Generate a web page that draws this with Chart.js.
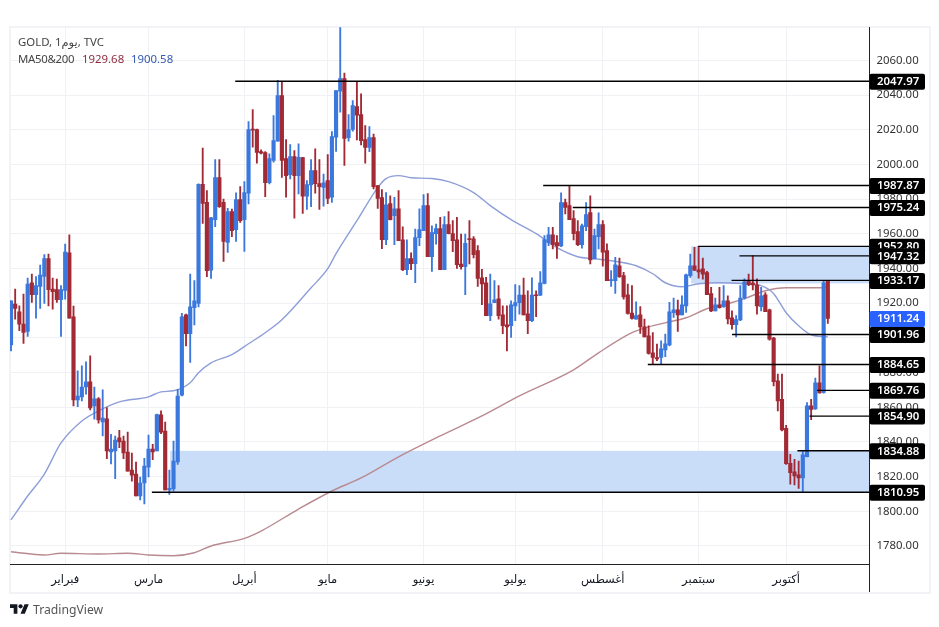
<!DOCTYPE html>
<html>
<head>
<meta charset="utf-8">
<title>GOLD</title>
<script src="https://cdn.jsdelivr.net/npm/chart.js@4"></script>
<style>
  html, body { margin: 0; padding: 0; background: #fff; overflow: hidden; }
  body { width: 939px; height: 627px; position: relative; font-family: "Noto Sans", "DejaVu Sans", sans-serif; }
  #frame { position: absolute; left: 9px; top: 26px; width: 918px; height: 564px; border: 2px solid #f1f3f6; }
  #wrap { position: absolute; left: 0; top: 0; width: 939px; height: 627px; }
  .txt { position: absolute; white-space: nowrap; font-size: 11.4px; line-height: 16px; color: #444; }
  #brand { position: absolute; left: 33px; top: 601px; font-size: 12.2px; line-height: 18px; color: #555; }
  #logo { position: absolute; left: 10px; top: 604px; }
</style>
</head>
<body>
<div id="frame"></div>
<div id="wrap"><canvas id="chart"></canvas></div>
<div class="txt" style="left:18px;top:34px">GOLD, 1يوم, TVC</div>
<div class="txt" style="left:18px;top:51px;letter-spacing:-0.3px">MA50&amp;200</div>
<div class="txt" style="left:82px;top:51px;color:#8e2b3e">1929.68</div>
<div class="txt" style="left:131px;top:51px;color:#3558b0">1900.58</div>
<svg id="logo" width="19" height="10" viewBox="0 4 36 18"><path d="M14 22H7V11H0V4h14v18zM28 22h-8l7.5-18h8L28 22z" fill="#131722"/><circle cx="20" cy="8" r="4" fill="#131722"/></svg>
<div id="brand">TradingView</div>

<script>
// Daily candles
const opens = [
  1896.0,1919.5,1915.1,1907.9,1903.7,1931.8,1924.9,1929.7,1935.5,1945.7,
  1928.1,1927.8,1922,1927.4,1949.1,1912.2,1864.2,1866,1871.7,1874.6,
  1860.8,1864.8,1851.5,1853.3,1834.2,1834.8,1842.3,1840.5,1834.2,1823.8,
  1821.5,1808.8,1816.3,1825.5,1835.9,1834.8,1855.6,1846.3,1812.3,1813,
  1828.4,1866.9,1913.3,1902.5,1917.4,1919.9,1988.6,1978.2,1939.1,1968.2,
  1992.4,1978.2,1955.1,1972.8,1962.4,1979.7,1968.2,1983.4,2020.2,2020.2,
  2007.5,2006.9,1989.5,2002.3,2013.4,2039.8,2003.4,1994.2,2004.6,1993.6,
  2004,1981.7,1988.2,1996.5,1989,1986.8,1990.7,1981.1,2015.7,2042.3,
  2049.6,2015.5,2020.2,2033.4,2028.8,2014.4,2009.8,2015.5,1987.8,1980.9,
  1956.6,1977.4,1970.5,1974.5,1956.6,1939.3,1945.7,1942.8,1957.8,1961.8,
  1976.3,1946.8,1960.1,1963,1939.3,1965.3,1960.1,1956.6,1942.6,1941.1,
  1957.2,1957.2,1950.3,1934.7,1931.8,1912.8,1920.3,1922.6,1913.3,1907.6,
  1907,1918.5,1920.3,1924.7,1913.9,1909.9,1924.9,1924.7,1931.4,1954.9,
  1959.5,1954.9,1953,1978,1976.3,1968.8,1961.3,1953.8,1964.2,1972.2,
  1945.5,1958.4,1965.3,1950.3,1933,1933,1941.6,1935.9,1924.9,1914.3,
  1910.8,1913.3,1906.4,1901.2,1891.4,1888.7,1888.7,1893.1,1896,1914.5,
  1916.2,1913.3,1918.5,1935.9,1941.6,1939.3,1939.9,1937.6,1925.5,1915.6,
  1919.1,1918,1921.4,1911.6,1907.6,1910.3,1923,1933,1931.6,1930.5,
  1918,1924.9,1916.2,1899.9,1875.2,1864.6,1847.9,1827.7,1822.7,1821,
  1819.2,1831.5,1860.8,1859,1874.1,1868.5,1932.6
];
const highs = [
  1921.4,1928.1,1918.5,1925.3,1934.5,1936.8,1935.3,1942,1948,1948.4,
  1934.5,1933.9,1930.1,1954.1,1959.5,1918.3,1881,1883.9,1886.2,1889.6,
  1871.7,1865.6,1870,1859.8,1844.4,1843.4,1846.7,1843.4,1845.7,1833.6,
  1828.4,1819.8,1830.5,1844,1838.6,1856,1857.9,1851.5,1823.8,1840.5,
  1870.4,1914.1,1913.7,1936.8,1933,1988.8,2009.4,1984.9,1969.5,2002.8,
  2002.8,1980.1,1974.7,1974.3,1983.6,1987.2,1990.1,2024.8,2031.7,2020.5,
  2008.4,2007.5,2006.1,2028.2,2048.5,2047.9,2014.4,2011.5,2008,2011.9,
  2004.2,1990.7,2002.8,2009,2002.8,1994.5,2005.7,2019,2042.7,2079,
  2052.7,2028.8,2036.9,2047.9,2040.8,2022.5,2021.9,2017.6,1987.8,1985.5,
  1983.8,1982,1981.1,1984.9,1964.1,1956.6,1949.1,1962.8,1974.5,1982.6,
  1983.2,1964.7,1965.7,1969.5,1969.9,1972.8,1967.6,1969.5,1959.9,1959.9,
  1967.6,1958.4,1953.2,1939.5,1934.9,1936.8,1933,1930.1,1918.5,1918.5,
  1921.4,1930.7,1930.1,1934.5,1927.2,1934.7,1927.2,1938.2,1959,1963.8,
  1963.8,1959,1983.6,1980.1,1987.87,1973.4,1967.6,1965.7,1978,1982,
  1962.8,1972.1,1967.6,1954.2,1938.8,1946.4,1946,1937.8,1931,1930.1,
  1920.8,1918,1910.8,1907,1903.1,1896.4,1898.3,1902.2,1920.5,1923,
  1921.8,1924.3,1936.8,1948.4,1952.2,1952.8,1946.1,1938.4,1929.1,1923,
  1929.1,1930.1,1924.3,1915.6,1912.8,1930.1,1934,1936.8,1947.32,1934,
  1929.1,1926.2,1916.6,1900.3,1879.1,1879.1,1849.6,1832.9,1830,1829,
  1834.4,1862.7,1864.6,1876.8,1883.9,1933.17,1933.17
];
const lows = [
  1892.5,1910.8,1904.1,1896.8,1900.8,1920.4,1911.4,1917,1919.9,1918.5,
  1916.6,1920.4,1900.8,1922.4,1911.4,1860.8,1860.4,1863.7,1867.5,1858.4,
  1853.1,1850.8,1843.4,1830.4,1827.3,1818.8,1836.7,1830.4,1823.2,1817.4,
  1808.8,1806.5,1804.2,1819.8,1829.8,1834.8,1844.8,1812.3,1809.8,1811.7,
  1827.1,1866.5,1895.4,1885.8,1907.5,1917.9,1966,1935.3,1934.3,1964.1,
  1975.3,1944.1,1949.3,1958.4,1955.7,1966.6,1949.9,1977.2,2010,2000.7,
  2006.1,1981.5,1988.8,2001.3,2013.4,1992.6,1981.1,1991.7,1969.1,1983,
  1971.8,1974.1,1975.7,1983.4,1974.1,1975.9,1977.4,1978.2,2007.6,2030.2,
  1999.4,2013.4,2019.2,2014.2,2011.3,2000.7,2007.4,1985.9,1974.7,1951.4,
  1953.7,1968,1953.7,1956,1938.7,1936.4,1939.3,1931.8,1953.2,1961.8,
  1946.8,1938.3,1954.1,1939.3,1939.3,1959.9,1949.7,1940.1,1939.7,1924.9,
  1942.6,1946.1,1929.7,1919.1,1912.8,1909.9,1920.3,1910.8,1902.4,1892.5,
  1900.3,1909.9,1913.7,1913.3,1902.4,1909.3,1912.2,1924.3,1931.2,1953.2,
  1951.3,1945.9,1952.6,1971.5,1968.2,1956.5,1953.2,1951.8,1961.9,1942.6,
  1945.5,1951.3,1941.3,1933,1929.7,1925.7,1934.9,1922.4,1913.7,1910.8,
  1910.8,1902.6,1900.6,1890.6,1885.2,1886.8,1884.65,1889.1,1895.4,1911.8,
  1903.7,1913.3,1914.7,1934.9,1938.8,1934.5,1933.9,1924.9,1915.1,1915.6,
  1917.2,1917.6,1908,1905.1,1900.6,1909.9,1922.4,1930.1,1927.6,1913.7,
  1915.6,1915.1,1898.7,1872.3,1857.9,1846.4,1827.1,1815.6,1815.2,1813.2,
  1810.95,1831.3,1852.9,1858.7,1868.1,1868.1,1908.3
];
const closes = [
  1921.4,1917,1907.9,1903.1,1931,1924.9,1930.1,1936.2,1945.7,1927.8,
  1926.6,1922,1927.8,1949.5,1911.4,1864.2,1866.5,1871.7,1874.6,1859.6,
  1864.8,1852.7,1853.8,1834.8,1835.9,1841.1,1840,1833.6,1823.2,1820.9,
  1808.8,1816.3,1826.1,1835.9,1834.2,1855.8,1845.7,1812.3,1813.2,1829,
  1866.5,1912.2,1902.5,1917.9,1921.4,1988.6,1977.6,1938.7,1969.3,1992.4,
  1975.7,1955.7,1972.8,1961.8,1979.7,1967.6,1983.8,2020.2,2019.8,2006.9,
  2006.5,1989.5,2003.4,2013.8,2039.8,2002.3,1993.6,2004.6,1993.6,2004.2,
  1981.7,1988.4,1996.5,1989,1987.2,1989.5,1980.5,2016.1,2042.7,2049.6,
  2015.1,2020.2,2034,2028.4,2013.8,2009.8,2015.5,1987.2,1980.5,1956.6,
  1976.8,1968.2,1974.5,1956,1939.3,1945.7,1942.8,1957.8,1962.4,1976.3,
  1946.8,1960.7,1963,1939.3,1965.3,1960.1,1956,1942.2,1941.1,1954.5,
  1956.7,1948,1934.3,1931.2,1912.8,1919.7,1922,1912.8,1907,1906.4,
  1919.1,1920.3,1924.7,1913.3,1909.9,1924.7,1924.3,1931.8,1956.7,1959.5,
  1953.8,1953,1978,1975.3,1968.2,1960.1,1953.8,1964.7,1971.1,1944.9,
  1959,1965.3,1949.5,1933,1933.6,1942.2,1935.3,1923.7,1914.1,1911.2,
  1912.8,1906.4,1900.6,1891,1888.7,1887.9,1893.7,1896.6,1915.1,1916.2,
  1913.3,1919.1,1936.4,1941.6,1939.1,1938,1936.8,1924.9,1915.6,1919.1,
  1917.4,1921.4,1911,1907.6,1910.5,1923,1932.4,1930.7,1930.5,1918.5,
  1924.3,1915.1,1899.3,1874.7,1863.7,1846.9,1827.5,1822.3,1820.4,1819.2,
  1832.5,1860.8,1858.7,1874.1,1868.3,1931.8,1911.24
];

// Moving averages, sampled along the curves (day index, price)
const ma50Days = [0,4,8,12,17,21,26,33,36,39,43,45,48,53,57,61,65,72,76,78,83,88,90,93,96,101,105,111,115,120,126,131,136,140,144,150,154,157,161,165,170,176,180,183,186,189,192,196];
const ma50Values = [1795,1808.8,1821.5,1839.4,1852.1,1857.9,1863.1,1866,1868.9,1869.5,1874.1,1879.9,1885.6,1890.3,1896.6,1903,1910.5,1928.9,1939.9,1948.6,1967.6,1986.7,1991.9,1993.6,1992.4,1991.9,1990.1,1983.8,1976.3,1968.2,1960.1,1952,1946.8,1945.7,1944.5,1941.6,1937,1931.8,1929.5,1931.2,1931.8,1931.2,1930.1,1925.5,1914.5,1907,1901.8,1900.58];
const ma200Days = [0,8,12,21,28,33,39,44,48,56,60,69,77,84,93,103,113,122,135,141,149,153,157,162,167,172,176,181,186,195,196];
const ma200Values = [1776.7,1774.8,1775.8,1775.4,1775.8,1774.8,1774.4,1776.1,1780,1784.4,1788.6,1801.3,1811.7,1819.2,1831.4,1843.5,1855,1866.6,1881.6,1891.4,1903,1906.4,1908.7,1911.6,1916.8,1919.7,1922.6,1927.2,1928.9,1928.9,1929.68];

// Horizontal levels and the day each one starts from
const levelValues = [2047.97,1987.87,1975.24,1952.80,1947.32,1933.17,1901.96,1884.65,1869.76,1854.90,1834.88,1810.95];
const levelStarts = [53.8,127.7,134.8,164.9,174.8,172.9,173,152.8,193.4,191.6,188.7,33.8];
const lastPrice = 1911.24;

// Shaded zones
const zoneStarts = [163.2,38.2];
const zoneTops = [1952.8,1834.88];
const zoneBottoms = [1931.4,1810.95];

// Axis ticks
const monthLabels = ["فبراير","مارس","أبريل","مايو","يونيو","يوليو","أغسطس","سبتمبر","أكتوبر"];
const monthStarts = [13,33,56,76,99,121,142,165,186];
const priceTicks = [2060,2040,2020,2000,1980,1960,1940,1920,1900,1880,1860,1840,1820,1800,1780];

const UP = "#3b78de";
const DOWN = "#a22a35";
const FONT = '"Noto Sans", "DejaVu Sans", sans-serif';
const X_MIN = -0.24, X_MAX = 206;
const candleColors = opens.map((o, i) => (closes[i] >= o ? UP : DOWN));

const datasets = [];

// Levels on top of everything
levelValues.forEach((v, i) => {
  datasets.push({
    type: "line",
    data: [{ x: levelStarts[i], y: v }, { x: X_MAX, y: v }],
    borderColor: "#000",
    borderWidth: 1.4,
    pointRadius: 0,
    order: 0,
  });
});

// Candle bodies and wicks are two floating bar sets
datasets.push({
  type: "bar",
  data: opens.map((o, i) => ({ x: i, y: [o, closes[i]] })),
  backgroundColor: candleColors,
  barThickness: 3.5,
  minBarLength: 1,
  grouped: false,
  order: 1,
});
datasets.push({
  type: "bar",
  data: lows.map((l, i) => ({ x: i, y: [l, highs[i]] })),
  backgroundColor: candleColors,
  barThickness: 1.2,
  grouped: false,
  order: 2,
});

datasets.push({
  type: "line",
  data: ma50Days.map((d, i) => ({ x: d, y: ma50Values[i] })),
  borderColor: "#8d9ed8",
  borderWidth: 1.4,
  pointRadius: 0,
  cubicInterpolationMode: "monotone",
  order: 3,
});
datasets.push({
  type: "line",
  data: ma200Days.map((d, i) => ({ x: d, y: ma200Values[i] })),
  borderColor: "#b98a90",
  borderWidth: 1.4,
  pointRadius: 0,
  cubicInterpolationMode: "monotone",
  order: 3,
});

// Zones go behind the candles
const zonePlugin = {
  id: "zones",
  beforeDatasetsDraw(chart) {
    const { ctx, scales, chartArea } = chart;
    ctx.save();
    ctx.fillStyle = "#c9ddf9";
    zoneStarts.forEach((start, i) => {
      const x = scales.x.getPixelForValue(start);
      const top = scales.y.getPixelForValue(zoneTops[i]);
      const bottom = scales.y.getPixelForValue(zoneBottoms[i]);
      ctx.fillRect(x, top, chartArea.right - x, bottom - top);
    });
    ctx.restore();
  },
};

// Price tags on the right axis
const tagPlugin = {
  id: "tags",
  afterDraw(chart) {
    const { ctx, scales, chartArea } = chart;
    ctx.save();
    // the axis line runs down through the date strip
    ctx.strokeStyle = "#222";
    ctx.lineWidth = 1;
    ctx.beginPath();
    ctx.moveTo(chartArea.right, chartArea.top);
    ctx.lineTo(chartArea.right, chartArea.bottom + 28);
    ctx.stroke();

    ctx.font = "600 11.4px " + FONT;
    ctx.textBaseline = "middle";
    const drawTag = (value, color) => {
      const y = scales.y.getPixelForValue(value);
      ctx.fillStyle = color;
      ctx.beginPath();
      ctx.roundRect(chartArea.right, y - 7.5, 55.5, 16, 2);
      ctx.fill();
      ctx.fillStyle = "#fff";
      ctx.fillText(value.toFixed(2), chartArea.right + 7.5, y + 0.5);
    };
    levelValues.forEach((v) => drawTag(v, "#000"));
    drawTag(lastPrice, "#2962ff");
    ctx.restore();
  },
};

new Chart(document.getElementById("chart"), {
  type: "bar",
  data: { datasets },
  plugins: [zonePlugin, tagPlugin],
  options: {
    responsive: true,
    maintainAspectRatio: false,
    animation: false,
    events: [],
    layout: { padding: { left: 10, top: 27, right: 0, bottom: 35 } },
    plugins: { legend: { display: false }, tooltip: { enabled: false } },
    scales: {
      x: {
        type: "linear",
        min: X_MIN,
        max: X_MAX,
        offset: false,
        afterBuildTicks(scale) {
          scale.ticks = monthStarts.map((v) => ({ value: v }));
        },
        afterFit(scale) {
          scale.height = 28;
        },
        grid: { offset: false, color: "#eff1f5", drawTicks: false },
        border: { color: "#222", width: 1 },
        ticks: {
          autoSkip: false,
          maxRotation: 0,
          padding: 9,
          color: "#131722",
          font: { family: FONT, size: 11.5 },
          callback: (value) => monthLabels[monthStarts.indexOf(value)],
        },
      },
      y: {
        position: "right",
        min: 1769.6,
        max: 2079.3,
        afterBuildTicks(scale) {
          scale.ticks = priceTicks.map((v) => ({ value: v }));
        },
        afterFit(scale) {
          scale.width = 69.5;
        },
        grid: { color: "#eff1f5", drawTicks: false },
        border: { color: "#222", width: 1 },
        ticks: {
          padding: 7,
          color: "#333",
          font: { family: FONT, size: 11.4 },
          callback: (value) => value.toFixed(2),
        },
      },
    },
  },
});
</script>
</body>
</html>
